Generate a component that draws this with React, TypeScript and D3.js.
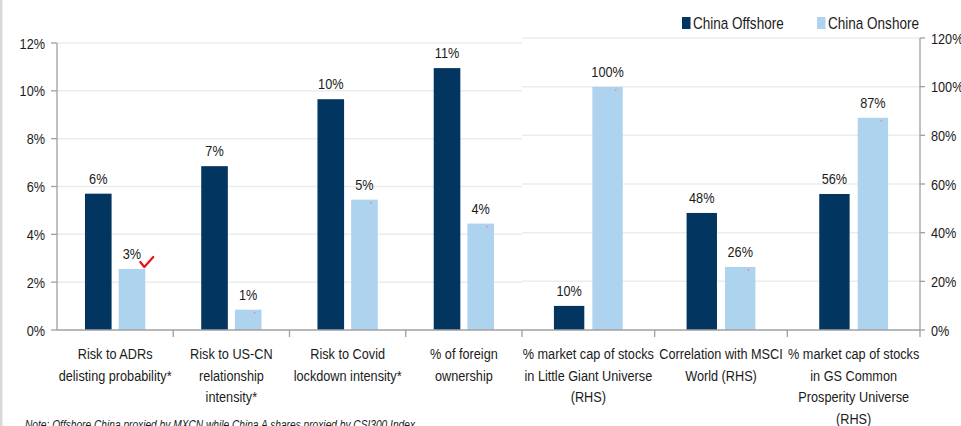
import React from "react";
import * as d3 from "d3";

// Left-hand panel (LHS axis)
const leftCategories: string[][] = [
  ["Risk to ADRs", "delisting probability*"],
  ["Risk to US-CN", "relationship", "intensity*"],
  ["Risk to Covid", "lockdown intensity*"],
  ["% of foreign", "ownership"],
];
const leftOffshore = [0.057, 0.0685, 0.0965, 0.1095];
const leftOnshore = [0.0255, 0.0085, 0.0545, 0.0445];
const leftTicks = [0, 0.02, 0.04, 0.06, 0.08, 0.1, 0.12];

// Right-hand panel (RHS axis)
const rightCategories: string[][] = [
  ["% market cap of stocks", "in Little Giant Universe", "(RHS)"],
  ["Correlation with MSCI", "World (RHS)"],
  ["% market cap of stocks", "in GS Common", "Prosperity Universe", "(RHS)"],
];
const rightOffshore = [0.099, 0.481, 0.559];
const rightOnshore = [0.999, 0.259, 0.872];
const rightTicks = [0, 0.2, 0.4, 0.6, 0.8, 1.0, 1.2];

const seriesNames = ["China Offshore", "China Onshore"];
const seriesColors = ["#02355f", "#aed3ef"];
const note = "Note: Offshore China proxied by MXCN while China A shares proxied by CSI300 Index";

const W = 961;
const H = 426;
const FONT = "'Liberation Sans', Arial, sans-serif";
const NARROW = 0.82; // horizontal squeeze to get a narrow sans face
const FS = 15.5;
const TEXT = "#1b1b1b";
const AXIS = "#a0a0a0";
const GRID = "#ececec";

const xLeftStart = 57;
const xSplit = 522;
const xRightEnd = 920;
const yBase = 330;

const pct = d3.format(".0%");

type Anchor = "start" | "middle" | "end";

function NText({
  x,
  y,
  children,
  anchor = "start",
  size = FS,
  italic = false,
}: {
  x: number;
  y: number;
  children: React.ReactNode;
  anchor?: Anchor;
  size?: number;
  italic?: boolean;
}) {
  return (
    <text
      transform={`translate(${x},${y}) scale(${NARROW},1)`}
      textAnchor={anchor}
      fontSize={size}
      fontStyle={italic ? "italic" : "normal"}
      fill={TEXT}
      fontFamily={FONT}
    >
      {children}
    </text>
  );
}

type Panel = {
  cats: string[][];
  off: number[];
  on: number[];
  x: d3.ScaleBand<string>;
  y: d3.ScaleLinear<number, number>;
  ticks: number[];
  x0: number;
  x1: number;
};

function makePanel(
  cats: string[][],
  off: number[],
  on: number[],
  r: [number, number],
  yTop: number,
  max: number,
  ticks: number[]
): Panel {
  const x = d3.scaleBand<string>().domain(cats.map((_, i) => String(i))).range(r).padding(0);
  const y = d3.scaleLinear().domain([0, max]).range([yBase, yTop]);
  return { cats, off, on, x, y, ticks, x0: r[0], x1: r[1] };
}

const panels: Panel[] = [
  makePanel(leftCategories, leftOffshore, leftOnshore, [xLeftStart, xSplit], 43, 0.12, leftTicks),
  makePanel(rightCategories, rightOffshore, rightOnshore, [xSplit, xRightEnd], 38, 1.2, rightTicks),
];

function PanelMarks({ p, idx }: { p: Panel; idx: number }) {
  const sub = d3
    .scaleBand<string>()
    .domain(seriesNames)
    .range([0, p.x.bandwidth()])
    .paddingInner(0.21)
    .paddingOuter(0.83);
  return (
    <g>
      {p.ticks
        .filter((t) => t > 0)
        .map((t) => (
          <line key={"g" + t} x1={p.x0} x2={p.x1} y1={p.y(t)} y2={p.y(t)} stroke={GRID} strokeWidth={1.5} />
        ))}
      {p.cats.map((lines, i) => {
        const bx = p.x(String(i))!;
        const cx = bx + p.x.bandwidth() / 2;
        const vals = [p.off[i], p.on[i]];
        return (
          <g key={i}>
            {vals.map((v, s) => {
              const x = bx + sub(seriesNames[s])!;
              const w = sub.bandwidth();
              const top = p.y(v);
              return (
                <g key={s}>
                  <rect x={x} y={top} width={w} height={yBase - top} fill={seriesColors[s]} />
                  <NText x={x + w / 2} y={top - 10} anchor="middle">
                    {pct(v)}
                  </NText>
                  {s === 1 && !(idx === 0 && i === 0) && (
                    <circle cx={x + w - 7} cy={top + 3} r={0.9} fill="#f08a8a" />
                  )}
                  {s === 1 && idx === 0 && i === 0 && (
                    <path
                      d={`M${x + w - 5},${top - 7} L${x + w - 1},${top - 2} L${x + w + 8},${top - 12}`}
                      fill="none"
                      stroke="#e8121a"
                      strokeWidth={2.2}
                      strokeLinecap="round"
                      strokeLinejoin="round"
                    />
                  )}
                </g>
              );
            })}
            {lines.map((l, k) => (
              <NText key={k} x={cx} y={359 + k * 21.5} anchor="middle">
                {l}
              </NText>
            ))}
            <line
              x1={bx + p.x.bandwidth()}
              x2={bx + p.x.bandwidth()}
              y1={yBase}
              y2={yBase + 7}
              stroke={AXIS}
              strokeWidth={1.3}
            />
          </g>
        );
      })}
    </g>
  );
}

export default function App() {
  const [left, right] = panels;
  return (
    <svg width={W} height={H} style={{ position: "absolute", left: 0, top: 0, background: "#fff" }}>
      <rect x={0} y={0} width={W} height={H} fill="#fff" />
      <rect x={0} y={0} width={2.5} height={H} fill="#d9d9d9" />

      <PanelMarks p={left} idx={0} />
      <PanelMarks p={right} idx={1} />

      {/* left axis */}
      <line x1={xLeftStart} x2={xLeftStart} y1={left.y(0.12)} y2={yBase} stroke={AXIS} strokeWidth={1.3} />
      {left.ticks.map((t) => (
        <g key={"lt" + t}>
          <line x1={xLeftStart - 6} x2={xLeftStart} y1={left.y(t)} y2={left.y(t)} stroke={AXIS} strokeWidth={1.3} />
          <NText x={45} y={left.y(t) + 5.5} anchor="end">
            {pct(t)}
          </NText>
        </g>
      ))}

      {/* right axis */}
      <line x1={xRightEnd} x2={xRightEnd} y1={right.y(1.2)} y2={yBase} stroke={AXIS} strokeWidth={1.3} />
      {right.ticks.map((t) => (
        <g key={"rt" + t}>
          <line x1={xRightEnd} x2={xRightEnd + 5} y1={right.y(t)} y2={right.y(t)} stroke={AXIS} strokeWidth={1.3} />
          <NText x={931} y={right.y(t) + 5.5}>
            {pct(t)}
          </NText>
        </g>
      ))}

      {/* category axis */}
      <line x1={xLeftStart} x2={xRightEnd} y1={yBase} y2={yBase} stroke={AXIS} strokeWidth={1.3} />

      {/* legend */}
      {seriesNames.map((n, i) => {
        const lx = [682, 817][i];
        return (
          <g key={n}>
            <rect x={lx} y={17} width={8.5} height={12} fill={seriesColors[i]} />
            <NText x={lx + 11} y={29} size={16.5}>
              {n}
            </NText>
          </g>
        );
      })}

      <text
        x={25}
        y={428.5}
        fontSize={12}
        fontStyle="italic"
        fill={TEXT}
        fontFamily={FONT}
        textLength={390}
        lengthAdjust="spacingAndGlyphs"
      >
        {note}
      </text>
    </svg>
  );
}
